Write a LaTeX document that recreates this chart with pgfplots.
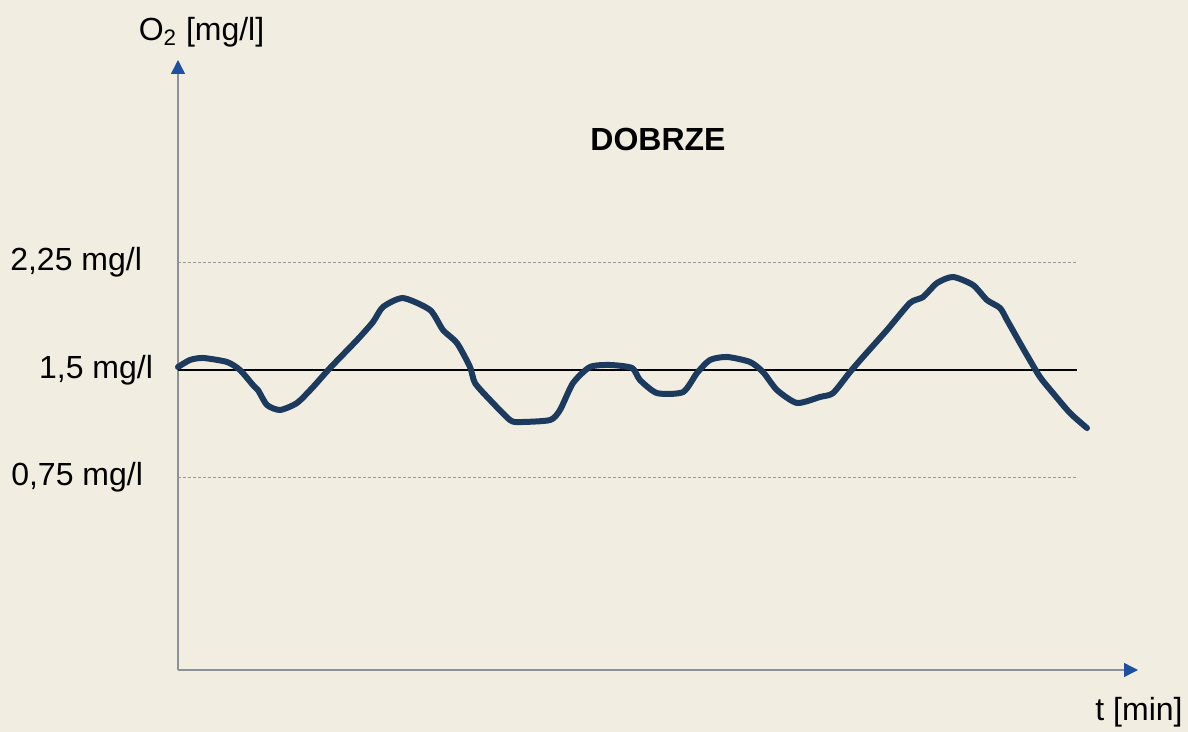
\documentclass[border=0pt]{standalone}
\usepackage{pgfplots}
\pgfplotsset{compat=1.18}
\usepackage{fontspec}
\setmainfont{Liberation Sans}
\usetikzlibrary{arrows.meta}
\definecolor{bg}{HTML}{F2EDE1}
\definecolor{curve}{HTML}{1B3A5E}
\definecolor{axblue}{HTML}{1F4FA0}
\definecolor{axgrey}{HTML}{8A929C}
\begin{document}
\fontsize{16}{18}\selectfont
\begin{tikzpicture}
\fill[bg] (-89pt,-31pt) rectangle (505pt,335pt);
\begin{axis}[
  scale only axis,
  width=480pt, height=305pt,
  xmin=0, xmax=96, ymin=-0.593, ymax=3.663,
  axis lines=left,
  axis line style={axgrey, line width=0.7pt},
  x axis line style={-{Triangle[length=7pt,width=7pt,color=axblue]}},
  y axis line style={-{Triangle[length=7pt,width=7pt,color=axblue]}},
  xtick=\empty, ytick=\empty,
  clip=false,
]
\addplot[gray!80, line width=0.5pt, dash pattern=on 1.6pt off 0.9pt] coordinates {(0,2.25) (89.9,2.25)};
\addplot[gray!80, line width=0.5pt, dash pattern=on 1.6pt off 0.9pt] coordinates {(0,0.75) (89.9,0.75)};
\addplot[black, line width=1pt] coordinates {(0,1.5) (89.9,1.5)};
\addplot[curve, line width=3pt, smooth, tension=0.4, line join=round, line cap=round] coordinates {
(0.0,1.521) (1.2,1.570) (2.5,1.584) (4.9,1.556) (6.2,1.500) (7.5,1.395) (8.0,1.360)
(8.9,1.256) (10.2,1.221) (11.9,1.270) (13.5,1.381) (15.2,1.514) (17.9,1.709)
(19.5,1.835) (20.5,1.940) (22.5,2.002) (25.2,1.919) (26.5,1.779) (27.9,1.688)
(29.2,1.521) (29.7,1.409) (31.2,1.291) (33.2,1.151) (34.2,1.137) (37.2,1.151)
(38.2,1.221) (39.5,1.409) (41.2,1.521) (43.2,1.535) (45.4,1.514) (46.2,1.430)
(47.9,1.339) (50.5,1.346) (51.9,1.479) (53.2,1.570) (54.9,1.591) (57.2,1.556)
(58.5,1.486) (59.9,1.360) (61.9,1.270) (64.2,1.312) (65.5,1.339) (67.2,1.486)
(68.5,1.591) (70.9,1.779) (73.2,1.968) (74.5,2.009) (75.9,2.107) (77.5,2.149)
(79.5,2.093) (80.9,1.988) (82.2,1.933) (82.9,1.849) (84.2,1.688) (85.0,1.591)
(86.2,1.451) (87.5,1.339) (89.2,1.200) (90.9,1.095)
};
\node[anchor=east] at (axis cs:-2.5,2.25) {2,25 mg/l};
\node[anchor=east] at (axis cs:-1.4,1.5) {1,5 mg/l};
\node[anchor=east] at (axis cs:-2.4,0.75) {0,75 mg/l};
\node at (axis cs:2.35,3.859) {O\textsubscript{2} [mg/l]};
\node[font=\bfseries] at (axis cs:48.0,3.105) {DOBRZE};
\node at (axis cs:96.1,-0.887) {t [min]};
\end{axis}
\pgfresetboundingbox
\path (-89pt,-31pt) rectangle (505pt,335pt);
\end{tikzpicture}
\end{document}
